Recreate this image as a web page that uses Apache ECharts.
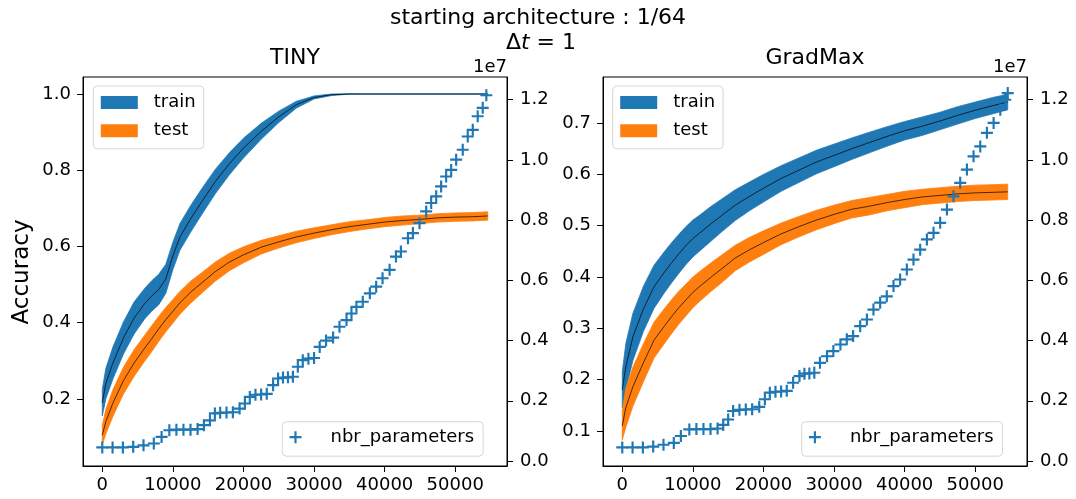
<!DOCTYPE html>
<html>
<head>
<meta charset="utf-8">
<script src="https://cdn.jsdelivr.net/npm/echarts@6/dist/echarts.min.js"></script>
<style>html,body{margin:0;padding:0;background:#fff;}#c{width:1076px;height:499px;}</style>
</head>
<body>
<div id="c"></div>
<script>
// ---------- data ----------
const steps = [0,500,1500,3000,4500,6000,7000,8000,9000,10000,11000,12500,14000,16000,18000,20000,22500,25000,27500,30000,32500,35000,37500,40000,42500,45000,47500,50000,52500,54600];

const tinyTrainMean = [0.19,0.24,0.294,0.36,0.412,0.45,0.47,0.487,0.515,0.575,0.625,0.672,0.715,0.77,0.817,0.858,0.902,0.94,0.972,0.991,0.998,1.0,1.0,1.0,1.0,1.0,1.0,1.0,1.0,1.0];
const tinyTrainStd  = [0.035,0.04,0.042,0.042,0.042,0.04,0.04,0.04,0.038,0.036,0.035,0.035,0.034,0.032,0.029,0.026,0.021,0.015,0.009,0.004,0.002,0.0005,0.0003,0.0003,0.0003,0.0003,0.0003,0.0003,0.0003,0.0003];
const tinyTestMean  = [0.105,0.14,0.189,0.248,0.294,0.333,0.358,0.384,0.408,0.43,0.452,0.48,0.503,0.534,0.559,0.578,0.598,0.612,0.625,0.635,0.644,0.652,0.658,0.664,0.668,0.671,0.675,0.677,0.678,0.68];
const tinyTestStd   = [0.025,0.032,0.035,0.035,0.035,0.034,0.034,0.033,0.032,0.031,0.03,0.029,0.027,0.025,0.023,0.021,0.018,0.016,0.015,0.014,0.013,0.013,0.012,0.012,0.012,0.011,0.011,0.011,0.011,0.011];

const gradTrainMean = [0.18,0.225,0.283,0.338,0.381,0.41,0.428,0.445,0.461,0.475,0.486,0.503,0.519,0.54,0.557,0.573,0.592,0.608,0.624,0.637,0.65,0.662,0.674,0.685,0.694,0.704,0.715,0.725,0.734,0.741];
const gradTrainStd  = [0.035,0.045,0.046,0.044,0.042,0.04,0.039,0.038,0.037,0.036,0.035,0.034,0.032,0.03,0.028,0.027,0.025,0.024,0.023,0.022,0.021,0.02,0.019,0.018,0.018,0.017,0.017,0.016,0.016,0.015];
const gradTestMean  = [0.11,0.145,0.186,0.233,0.277,0.305,0.323,0.34,0.355,0.37,0.382,0.399,0.415,0.437,0.453,0.467,0.484,0.498,0.511,0.522,0.532,0.538,0.545,0.551,0.556,0.559,0.562,0.564,0.565,0.566];
const gradTestStd   = [0.028,0.038,0.038,0.037,0.035,0.034,0.033,0.032,0.031,0.03,0.029,0.028,0.027,0.025,0.024,0.023,0.021,0.02,0.019,0.018,0.017,0.017,0.016,0.016,0.015,0.015,0.015,0.015,0.015,0.015];

// number of parameters, in units of 1e7
const tinyParamSteps = [0,1460,2920,4380,5840,7300,8400,9500,10500,11500,12500,13500,14400,15250,15950,16700,17600,18500,19450,20200,20900,21700,22500,23300,24200,24900,25600,26300,27000,27700,28400,29200,30000,30800,31700,32700,33600,34600,35300,36000,36900,37900,38800,39700,40700,41600,42300,43300,44000,44940,45880,46590,47300,48000,48710,49420,50130,51060,51770,52480,53180,53890,54400];
const tinyParamsE7 = [0.045,0.045,0.045,0.047,0.052,0.058,0.080,0.102,0.104,0.104,0.104,0.106,0.119,0.135,0.158,0.160,0.161,0.162,0.174,0.191,0.213,0.220,0.221,0.223,0.252,0.274,0.277,0.278,0.280,0.313,0.335,0.340,0.342,0.379,0.400,0.410,0.446,0.468,0.490,0.512,0.529,0.557,0.579,0.607,0.635,0.679,0.696,0.740,0.757,0.790,0.829,0.857,0.879,0.912,0.945,0.967,1.001,1.034,1.078,1.100,1.145,1.173,1.215];
const gradParamSteps = [0,1460,2920,4380,5840,7300,8300,9500,10500,11500,12500,13500,14300,15000,15700,16600,17500,18400,19400,20200,20900,21700,22500,23300,24200,25100,25800,26500,27200,28000,29000,29900,30900,31800,32700,33700,34650,35580,36530,37470,38420,39360,40310,41250,42200,43150,44090,45030,45990,46920,47870,48820,49760,50710,51650,52600,53550,54250,54600];
const gradParamsE7 = [0.045,0.045,0.045,0.048,0.054,0.060,0.083,0.105,0.106,0.106,0.106,0.108,0.120,0.138,0.166,0.170,0.171,0.172,0.180,0.205,0.227,0.230,0.231,0.233,0.260,0.282,0.290,0.291,0.293,0.326,0.348,0.365,0.387,0.404,0.415,0.448,0.470,0.503,0.526,0.547,0.581,0.603,0.636,0.669,0.702,0.736,0.758,0.791,0.835,0.879,0.924,0.968,1.012,1.045,1.090,1.123,1.167,1.200,1.222];

const xTicks = [0,10000,20000,30000,40000,50000];
const tinyAccTicks = [0.2,0.4,0.6,0.8,1.0];
const gradAccTicks = [0.1,0.2,0.3,0.4,0.5,0.6,0.7];
const paramTicksE7 = [0.0,0.2,0.4,0.6,0.8,1.0,1.2];

// ---------- chart ----------
const BLUE = '#1f77b4', ORANGE = '#ff7f0e';
const FONT = 'DejaVu Sans';
const PLUS = 'path://M4.1,0H5.9V4.1H10V5.9H5.9V10H4.1V5.9H0V4.1H4.1Z';

function xAxis(g) {
  return {type:'value', gridIndex:g, min:-2730, max:57330,
    axisLine:{show:true,onZero:false,lineStyle:{color:'#000',width:1}},
    axisTick:{show:true,length:6,lineStyle:{color:'#000',width:1},customValues:xTicks},
    axisLabel:{color:'#000',fontSize:18,fontFamily:FONT,margin:10,customValues:xTicks,formatter:v=>String(v)},
    splitLine:{show:false}};
}
function accAxis(g, min, max, ticks) {
  return {type:'value', gridIndex:g, position:'left', min:min, max:max,
    axisLine:{show:true,onZero:false,lineStyle:{color:'#000',width:1}},
    axisTick:{show:true,length:6,lineStyle:{color:'#000',width:1},customValues:ticks},
    axisLabel:{color:'#000',fontSize:18,fontFamily:FONT,margin:12,customValues:ticks,formatter:v=>v.toFixed(1)},
    splitLine:{show:false}};
}
function paramAxis(g) {
  return {type:'value', gridIndex:g, position:'right', min:-0.0166, max:1.2755,
    name:'1e7', nameLocation:'end', nameGap:10,
    nameTextStyle:{color:'#000',fontSize:18,fontFamily:FONT,align:'right',verticalAlign:'middle'},
    axisLine:{show:true,onZero:false,lineStyle:{color:'#000',width:1}},
    axisTick:{show:true,length:6,lineStyle:{color:'#000',width:1},customValues:paramTicksE7},
    axisLabel:{color:'#000',fontSize:18,fontFamily:FONT,margin:13,customValues:paramTicksE7,formatter:v=>v.toFixed(1)},
    splitLine:{show:false}};
}
function band(name, xi, yi, mean, std, color) {
  const lo = mean.map((m,i)=>m-std[i]);
  const hi = mean.map((m,i)=>m+std[i]);
  return {type:'custom', name:name, xAxisIndex:xi, yAxisIndex:yi, silent:true, clip:true,
    itemStyle:{color:color},
    data: steps.map((s,i)=>[s, lo[i], hi[i]]),
    encode:{x:0, y:[1,2]},
    renderItem:function(params, api){
      if (params.dataIndex !== 0) return null;
      const pts = [];
      for (let i=0;i<steps.length;i++) pts.push(api.coord([steps[i], hi[i]]));
      for (let i=steps.length-1;i>=0;i--) pts.push(api.coord([steps[i], lo[i]]));
      return {type:'polygon', shape:{points:pts}, style:{fill:color, stroke:color, lineWidth:0.8}};
    }};
}
function meanLine(xi, yi, mean) {
  return {type:'line', name:'mean', xAxisIndex:xi, yAxisIndex:yi, silent:true, symbol:'none',
    data: steps.map((s,i)=>[s, mean[i]]), lineStyle:{color:'#000',width:0.7}, z:3};
}
function params(xi, yi, xs, vs) {
  return {type:'scatter', name:'nbr_parameters', xAxisIndex:xi, yAxisIndex:yi, silent:true,
    symbol:PLUS, symbolSize:12, itemStyle:{color:BLUE, opacity:1}, z:4,
    data: xs.map((s,i)=>[s, vs[i]])};
}
const legendBox = {backgroundColor:'rgba(255,255,255,0.8)', borderColor:'#d6d6d6', borderWidth:1, borderRadius:4};
function legendTop(left) {
  return Object.assign({orient:'vertical', left:left, top:86, padding:[6.5,8,8,7.5], itemGap:8.3,
    itemWidth:37, itemHeight:13, selectedMode:false,
    textStyle:{color:'#000',fontSize:18,fontFamily:FONT,lineHeight:20,padding:[0,0,0,11]},
    data:[{name:'train',icon:'rect',itemStyle:{color:BLUE}},{name:'test',icon:'rect',itemStyle:{color:ORANGE}}]}, legendBox);
}
function legendBottom(left) {
  return Object.assign({orient:'vertical', left:left, top:421.7, padding:[5.5,9,9,7.2],
    itemWidth:36, itemHeight:12, selectedMode:false,
    textStyle:{color:'#000',fontSize:18,fontFamily:FONT,lineHeight:20,padding:[0,0,0,12]},
    data:[{name:'nbr_parameters',icon:PLUS,itemStyle:{color:BLUE}}]}, legendBox);
}

const chart = echarts.init(document.getElementById('c'), null, {renderer:'canvas'});
chart.setOption({
  animation:false,
  backgroundColor:'#fff',
  grid:[
    {left:83, top:77, width:424, height:389, show:true, borderColor:'#000', borderWidth:1, backgroundColor:'transparent'},
    {left:603, top:77, width:424, height:389, show:true, borderColor:'#000', borderWidth:1, backgroundColor:'transparent'}
  ],
  xAxis:[xAxis(0), xAxis(1)],
  yAxis:[accAxis(0,0.024,1.0446,tinyAccTicks), paramAxis(0), accAxis(1,0.0316,0.7898,gradAccTicks), paramAxis(1)],
  legend:[legendTop(93.3), legendBottom(282.3), legendTop(612.7), legendBottom(801.7)],
  graphic:[
    {type:'text', x:538, y:18, style:{text:'starting architecture : 1/64', fill:'#000', font:'22px "DejaVu Sans"', align:'center', verticalAlign:'middle', textAlign:'center', textVerticalAlign:'middle'}},
    {type:'text', x:541, y:43, style:{text:'{a|Δ}{b|t}{a| = 1}', fill:'#000', align:'center', verticalAlign:'middle', textAlign:'center', textVerticalAlign:'middle',
      rich:{a:{fontSize:22,fontFamily:FONT,fill:'#000'}, b:{fontSize:22,fontFamily:FONT,fontStyle:'italic',fill:'#000'}}}},
    {type:'text', x:295, y:58, style:{text:'TINY', fill:'#000', font:'22px "DejaVu Sans"', align:'center', verticalAlign:'middle', textAlign:'center', textVerticalAlign:'middle'}},
    {type:'text', x:815, y:58, style:{text:'GradMax', fill:'#000', font:'22px "DejaVu Sans"', align:'center', verticalAlign:'middle', textAlign:'center', textVerticalAlign:'middle'}},
    {type:'text', x:22, y:272, rotation:Math.PI/2, style:{text:'Accuracy', fill:'#000', font:'23px "DejaVu Sans"', align:'center', verticalAlign:'middle', textAlign:'center', textVerticalAlign:'middle'}}
  ],
  series:[
    band('train',0,0,tinyTrainMean,tinyTrainStd,BLUE), meanLine(0,0,tinyTrainMean),
    band('test',0,0,tinyTestMean,tinyTestStd,ORANGE), meanLine(0,0,tinyTestMean),
    params(0,1,tinyParamSteps,tinyParamsE7),
    band('train',1,2,gradTrainMean,gradTrainStd,BLUE), meanLine(1,2,gradTrainMean),
    band('test',1,2,gradTestMean,gradTestStd,ORANGE), meanLine(1,2,gradTestMean),
    params(1,3,gradParamSteps,gradParamsE7)
  ]
});
</script>
</body>
</html>
